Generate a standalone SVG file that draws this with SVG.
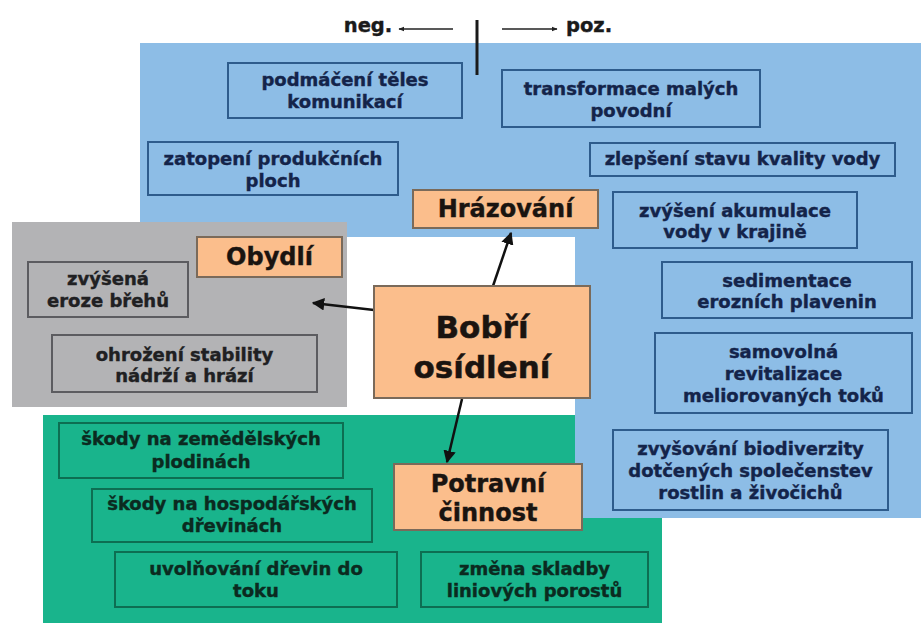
<svg xmlns="http://www.w3.org/2000/svg" width="923" height="627" viewBox="0 0 923 627">
<defs>
<style>
text{font-family:"DejaVu Sans","Liberation Sans",sans-serif;font-weight:bold;text-anchor:middle}
.t{font-size:18px;stroke-width:0.4}
.tb{fill:#14244a;stroke:#14244a}
.tg{fill:#202022;stroke:#202022}
.tt{fill:#0b2a20;stroke:#0b2a20}
.bb{fill:none;stroke:#2e5c8c;stroke-width:2}
.bg{fill:none;stroke:#5c5c60;stroke-width:2}
.bt{fill:none;stroke:#0d6e52;stroke-width:2}
.on{fill:#fbbe8c;stroke:#7a6a5a;stroke-width:2}
.ot{font-size:24px;fill:#1a1410;stroke:#1a1410;stroke-width:0.4}
.big{font-size:31px;fill:#1a1410;stroke:#1a1410;stroke-width:0.5}
.lg{font-size:19.5px;fill:#1a1a1a;stroke:#1a1a1a;stroke-width:0.4}
.ar{stroke:#111;stroke-width:2.5;fill:none}
.th{stroke:#222;stroke-width:1.5;fill:none}
</style>
<marker id="ah" viewBox="0 0 10 10" refX="9" refY="5" markerWidth="5" markerHeight="5" orient="auto" markerUnits="strokeWidth">
<path d="M0,0 L10,5 L0,10 Z" fill="#111"/>
</marker>
<marker id="sh" viewBox="0 0 10 10" refX="9" refY="5" markerWidth="4" markerHeight="4" orient="auto" markerUnits="strokeWidth">
<path d="M0,1 L10,5 L0,9 Z" fill="#222"/>
</marker>
</defs>
<rect x="0" y="0" width="923" height="627" fill="#ffffff"/>

<g id="zones">
<rect id="zone-green" x="43" y="415" width="619" height="208" fill="#19b48c"/>
<path id="zone-blue" d="M140,43 H921 V518 H575 V237 H140 Z" fill="#8dbde6"/>
<rect id="zone-gray" x="12" y="222" width="335" height="185" fill="#b3b3b5"/>
</g>

<g id="legend">
<text class="lg" x="368" y="32">neg.</text>
<line class="th" x1="453" y1="29" x2="399" y2="29" marker-end="url(#sh)"/>
<line x1="477" y1="20" x2="477" y2="75" stroke="#1a1a1a" stroke-width="3"/>
<line class="th" x1="502" y1="29" x2="557" y2="29" marker-end="url(#sh)"/>
<text class="lg" x="589" y="32">poz.</text>
</g>

<g id="connectors">
<line class="ar" x1="493" y1="286" x2="511" y2="233" marker-end="url(#ah)"/>
<line class="ar" x1="374" y1="310" x2="313" y2="303" marker-end="url(#ah)"/>
<line class="ar" x1="462" y1="399" x2="447" y2="462" marker-end="url(#ah)"/>
</g>

<g id="n-podmaceni"><rect class="bb" x="228" y="63" width="234" height="55"/>
<text class="t tb" x="345" y="86">podmáčení těles</text><text class="t tb" x="345" y="108">komunikací</text></g>
<g id="n-zatopeni"><rect class="bb" x="148" y="142" width="250" height="53"/>
<text class="t tb" x="273" y="165">zatopení produkčních</text><text class="t tb" x="273" y="187">ploch</text></g>
<g id="n-transformace"><rect class="bb" x="502" y="70" width="258" height="57"/>
<text class="t tb" x="631" y="95">transformace malých</text><text class="t tb" x="631" y="117">povodní</text></g>
<g id="n-zlepseni"><rect class="bb" x="590" y="143" width="305" height="33"/>
<text class="t tb" x="742.5" y="165">zlepšení stavu kvality vody</text></g>
<g id="n-akumulace"><rect class="bb" x="613" y="192" width="244" height="56"/>
<text class="t tb" x="735" y="217">zvýšení akumulace</text><text class="t tb" x="735" y="238">vody v krajině</text></g>
<g id="n-sedimentace"><rect class="bb" x="662" y="262" width="250" height="56"/>
<text class="t tb" x="787" y="287">sedimentace</text><text class="t tb" x="787" y="308">erozních plavenin</text></g>
<g id="n-samovolna"><rect class="bb" x="655" y="333" width="257" height="80"/>
<text class="t tb" x="783.5" y="358">samovolná</text><text class="t tb" x="783.5" y="380">revitalizace</text><text class="t tb" x="783.5" y="402">meliorovaných toků</text></g>
<g id="n-biodiverzita"><rect class="bb" x="613" y="430" width="275" height="80"/>
<text class="t tb" x="750.5" y="455">zvyšování biodiverzity</text><text class="t tb" x="750.5" y="477">dotčených společenstev</text><text class="t tb" x="750.5" y="499">rostlin a živočichů</text></g>

<g id="n-eroze"><rect class="bg" x="28" y="262" width="160" height="55"/>
<text class="t tg" x="108" y="285">zvýšená</text><text class="t tg" x="108" y="307">eroze břehů</text></g>
<g id="n-ohrozeni"><rect class="bg" x="52" y="335" width="265" height="57"/>
<text class="t tg" x="184.5" y="361">ohrožení stability</text><text class="t tg" x="184.5" y="382">nádrží a hrází</text></g>

<g id="n-plodiny"><rect class="bt" x="59" y="423" width="284" height="55"/>
<text class="t tt" x="201" y="445">škody na zemědělských</text><text class="t tt" x="201" y="468">plodinách</text></g>
<g id="n-dreviny"><rect class="bt" x="92" y="489" width="280" height="53"/>
<text class="t tt" x="232" y="510">škody na hospodářských</text><text class="t tt" x="232" y="532">dřevinách</text></g>
<g id="n-uvolnovani"><rect class="bt" x="115" y="552" width="282" height="55"/>
<text class="t tt" x="256" y="575">uvolňování dřevin do</text><text class="t tt" x="256" y="597">toku</text></g>
<g id="n-zmena"><rect class="bt" x="421" y="552" width="227" height="55"/>
<text class="t tt" x="534.5" y="575">změna skladby</text><text class="t tt" x="534.5" y="597">liniových porostů</text></g>

<g id="n-hrazovani"><rect class="on" x="413" y="190" width="185" height="38"/>
<text class="ot" x="505.5" y="217">Hrázování</text></g>
<g id="n-obydli"><rect class="on" x="197" y="237" width="145" height="40"/>
<text class="ot" x="269.5" y="265">Obydlí</text></g>
<g id="n-bobri"><rect class="on" x="374" y="286" width="216" height="112"/>
<text class="big" x="482" y="338">Bobří</text><text class="big" x="482" y="378">osídlení</text></g>
<g id="n-potravni"><rect class="on" x="394" y="464" width="188" height="66"/>
<text class="ot" x="488" y="492">Potravní</text><text class="ot" x="488" y="521">činnost</text></g>
</svg>
